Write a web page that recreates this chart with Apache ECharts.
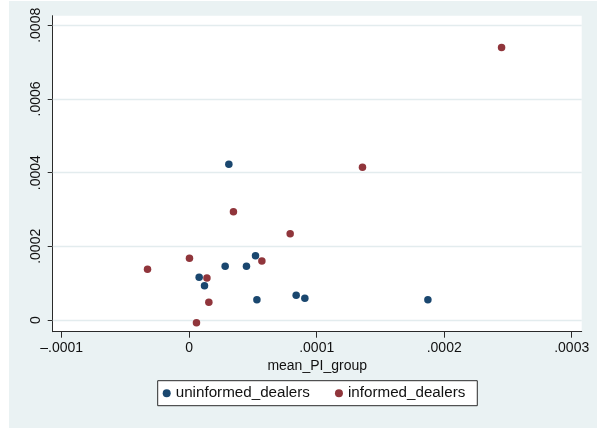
<!DOCTYPE html>
<html>
<head>
<meta charset="utf-8">
<script src="https://cdn.jsdelivr.net/npm/echarts@6/dist/echarts.min.js"></script>
<style>
html,body{margin:0;padding:0;background:#fff;width:597px;height:429px;overflow:hidden;}
#chart{position:absolute;left:9px;top:1px;width:588px;height:427px;}
</style>
</head>
<body>
<div id="chart"></div>
<script>
// ---- data ----
var uninformedX = [0.0000311, 0.0000078, 0.0000120, 0.0000282, 0.0000449, 0.0000520, 0.0000531, 0.0000839, 0.0000907, 0.0001872];
var uninformedY = [0.0004226, 0.0001160, 0.0000931, 0.0001457, 0.0001457, 0.0001746, 0.0000551, 0.0000670, 0.0000589, 0.0000551];
var informedX = [0.0000347, 0.0000002, -0.0000327, 0.0000139, 0.0000154, 0.0000057, 0.0000570, 0.0001359, 0.0000792, 0.0002450];
var informedY = [0.0002940, 0.0001675, 0.0001376, 0.0001140, 0.0000480, -0.0000073, 0.0001600, 0.0004145, 0.0002343, 0.0007400];
var xTicks = [-0.0001, 0, 0.0001, 0.0002, 0.0003];
var xTickLabels = ['\u2013.0001', '0', '.0001', '.0002', '.0003'];
var yTicks = [0, 0.0002, 0.0004, 0.0006, 0.0008];
var yTickLabels = ['0', '.0002', '.0004', '.0006', '.0008'];
var seriesNames = ['uninformed_dealers', 'informed_dealers'];
var xTitle = 'mean_PI_group';

function pairs(xs, ys) { return xs.map(function (x, i) { return [x, ys[i]]; }); }
function labelFor(ticks, labels) {
  return function (v) {
    for (var i = 0; i < ticks.length; i++) if (Math.abs(ticks[i] - v) < 1e-12) return labels[i];
    return '';
  };
}

var font = "'Liberation Sans', Arial, Helvetica, sans-serif";
var chart = echarts.init(document.getElementById('chart'), null, {renderer: 'canvas'});
chart.setOption({
  backgroundColor: '#EAF2F3',
  animation: false,
  textStyle: {fontFamily: font},
  grid: {left: 43.7, top: 14.7, width: 529, height: 316, show: true, backgroundColor: '#ffffff', borderWidth: 0},
  xAxis: {
    type: 'value', min: -0.00010706, max: 0.00030784,
    axisLine: {show: true, onZero: false, lineStyle: {color: '#2a2a2a', width: 1}},
    axisTick: {show: true, length: 6, customValues: xTicks, lineStyle: {color: '#2a2a2a'}},
    axisLabel: {show: true, customValues: xTicks, formatter: labelFor(xTicks, xTickLabels), color: '#111', fontSize: 14, margin: 9, fontFamily: font},
    splitLine: {show: false},
    name: xTitle, nameLocation: 'middle', nameGap: 25,
    nameTextStyle: {color: '#111', fontSize: 14, fontFamily: font}
  },
  yAxis: {
    type: 'value', min: -0.0000318, max: 0.0008261,
    axisLine: {show: true, onZero: false, lineStyle: {color: '#2a2a2a', width: 1}},
    axisTick: {show: true, length: 5, customValues: yTicks, lineStyle: {color: '#2a2a2a'}},
    axisLabel: {show: true, customValues: yTicks, formatter: labelFor(yTicks, yTickLabels), rotate: 90, color: '#111', fontSize: 14, margin: 10, fontFamily: font},
    splitLine: {show: false}
  },
  legend: {
    data: seriesNames,
    left: 148.7, top: 379.7,
    orient: 'horizontal',
    backgroundColor: '#ffffff', borderColor: '#2a2a2a', borderWidth: 1, borderRadius: 0,
    padding: [5, 12, 5, 5],
    itemWidth: 8, itemHeight: 8, itemGap: 25, itemTextGap: 9,
    icon: 'circle',
    textStyle: {color: '#111', fontSize: 15.2, fontFamily: font}
  },
  series: [
    {
      name: seriesNames[0], type: 'scatter', z: 3,
      symbol: 'circle', symbolSize: 7.5,
      itemStyle: {color: '#1A476F', opacity: 1},
      data: pairs(uninformedX, uninformedY),
      markLine: {
        silent: true, z: 1, precision: 8, symbol: ['none', 'none'], label: {show: false},
        lineStyle: {color: '#E3ECEE', width: 1.3, type: 'solid'},
        data: yTicks.map(function (v) { return {yAxis: v}; })
      }
    },
    {
      name: seriesNames[1], type: 'scatter', z: 4,
      symbol: 'circle', symbolSize: 7.5,
      itemStyle: {color: '#90353B', opacity: 1},
      data: pairs(informedX, informedY)
    }
  ]
});
</script>
</body>
</html>
